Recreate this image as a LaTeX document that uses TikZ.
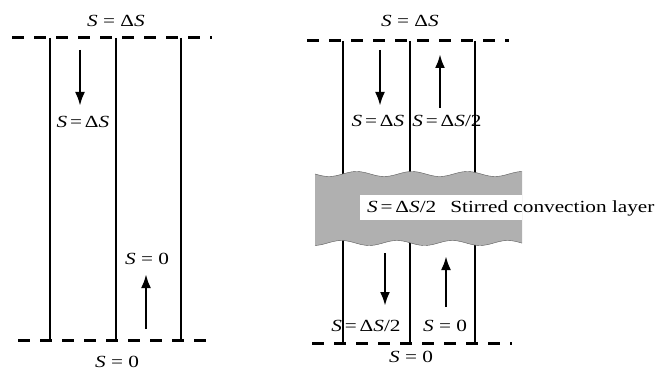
\documentclass[tikz,border=0pt]{standalone}
\usepackage{fontspec}
\setmainfont{Liberation Serif}[FakeStretch=1.25]
\usetikzlibrary{arrows.meta}
\newcommand{\Sv}{\textit{S}}

\begin{document}
\begin{tikzpicture}[x=1pt, y=-1pt, >={Latex[length=14pt,width=10pt]},
    wall/.style={line width=2.8pt},
    level/.style={line width=3pt, dash pattern=on 12pt off 10pt},
    flow/.style={->, line width=2.6pt},
    lab/.style={font=\fontsize{17}{20}\selectfont, inner sep=1pt}]
            \useasboundingbox (0,0) rectangle (663,371);
            % ==== LEFT: NO LAYER ====
            \draw[level] (12,38) -- (212,38);
            \draw[level] (18,340) -- (215,340);
            \foreach \xx in {50,116,181}
                \draw[wall] (\xx,38) -- (\xx,340);
            \draw[flow] (80,50) -- (80,106);
            \draw[flow] (146,329) -- (146,274);
            \node[lab] (ltop) at (116,21) {\Sv{} = Δ\Sv};
            \node[lab] (lin) at (83,122) {\Sv\,=\,Δ\Sv};
            \node[lab] (lout) at (147,259) {\Sv{} = 0};
            \node[lab] (lbot) at (117,362) {\Sv{} = 0};

            % ==== RIGHT: WITH STIRRED LAYER ====
            \draw[level] (307,41) -- (509,41);
            \draw[level] (312,343) -- (512,343);
            \foreach \xx in {343,410,475}
                \draw[wall] (\xx,41) -- (\xx,343);
            \fill[gray!62] plot[domain=315:522, samples=70] (\x,{174+2.5*sin(6.5*(\x-315))})
                -- plot[domain=522:315, samples=70] (\x,{243+2.5*sin(6.5*(\x-300))}) -- cycle;
            \draw[gray!70!black, thin] plot[domain=315:522, samples=70] (\x,{174+2.5*sin(6.5*(\x-315))});
            \draw[gray!70!black, thin] plot[domain=315:522, samples=70] (\x,{243+2.5*sin(6.5*(\x-300))});
            \fill[white] (360,195) rectangle (522,220);
            \draw[flow] (380,50) -- (380,106);
            \draw[flow] (440,108) -- (440,54);
            \draw[flow] (385,253) -- (385,306);
            \draw[flow] (446,307) -- (446,256);
            \node[lab] (rtop) at (410,21) {\Sv{} = Δ\Sv};
            \node[lab] (rin) at (378,121) {\Sv\,=\,Δ\Sv};
            \node[lab] (rmid) at (447,121) {\Sv\,=\,Δ\Sv/2};
            \node[lab, anchor=west] (rlay) at (366,208) {\Sv\,=\,Δ\Sv/2\hspace{14pt}Stirred convection layer};
            \node[lab] (rin2) at (366,326) {\Sv\,=\,Δ\Sv/2};
            \node[lab] (rout) at (445,326) {\Sv{} = 0};
            \node[lab] (rbot) at (411,357) {\Sv{} = 0};
         \end{tikzpicture}
\end{document}
